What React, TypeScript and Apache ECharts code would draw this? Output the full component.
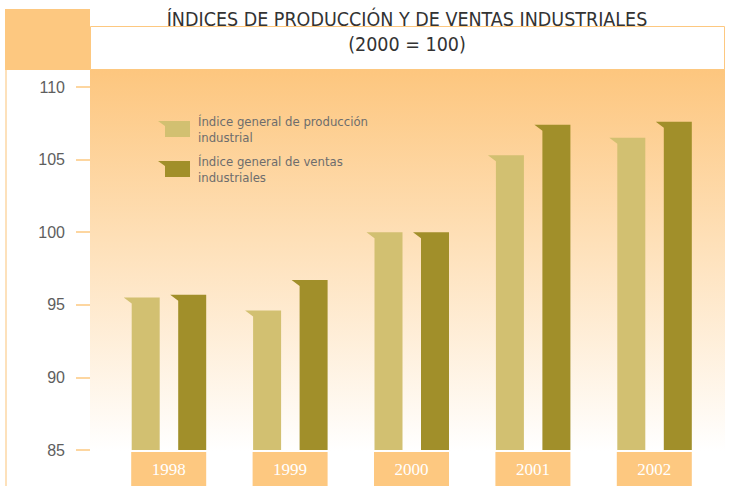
import React, { useEffect, useRef } from "react";
import * as echarts from "echarts";

const years = ["1998", "1999", "2000", "2001", "2002"];
const produccion = [95.5, 94.6, 100.0, 105.3, 106.5];
const ventas = [95.7, 96.7, 100.0, 107.4, 107.6];
const seriesNames = [
  "Índice general de producción\nindustrial",
  "Índice general de ventas\nindustriales",
];
const yTicks = { min: 85, max: 110, interval: 5 };

const LIGHT = "#D2C071";
const DARK = "#A18F2A";
const ORANGE = "#FDC880";
const NARROW = '"Liberation Sans Narrow", "DejaVu Sans Condensed", "Noto Sans", sans-serif';

function makeRender(offset: number, width: number) {
  return (params: any, api: any) => {
    const cat = api.value(0);
    const val = api.value(1);
    const top = api.coord([cat, val]);
    const base = api.coord([cat, yTicks.min]);
    const cx = top[0] + offset;
    const xl = cx - width / 2;
    const xr = cx + width / 2;
    const t = top[1];
    const b = base[1];
    return {
      type: "polygon",
      shape: {
        points: [
          [xl - 8, t],
          [xr, t],
          [xr, b],
          [xl, b],
          [xl, t + 6],
        ],
      },
      style: { fill: api.visual("color") },
    };
  };
}

export default function App() {
  const ref = useRef<HTMLDivElement>(null);
  useEffect(() => {
    if (!ref.current) return;
    const chart = echarts.init(ref.current, null, { renderer: "svg" });
    chart.setOption({
      animation: false,
      backgroundColor: "#ffffff",
      title: {
        text: "ÍNDICES DE PRODUCCIÓN Y DE VENTAS INDUSTRIALES",
        subtext: "(2000 = 100)",
        left: 407,
        textAlign: "center",
        top: 7,
        padding: 0,
        itemGap: 1,
        textStyle: { fontFamily: NARROW, fontSize: 19.5, fontWeight: "normal", color: "#333", lineHeight: 24 },
        subtextStyle: { fontFamily: NARROW, fontSize: 19.5, color: "#333", lineHeight: 24 },
      },
      graphic: [
        {
          type: "rect",
          z: -10,
          shape: { x: 90, y: 69, width: 635, height: 382 },
          style: {
            fill: new echarts.graphic.LinearGradient(0, 0, 0, 1, [
              { offset: 0, color: "#FDC67E" },
              { offset: 0.45, color: "#FEE0B8" },
              { offset: 1, color: "#FFFFFF" },
            ]),
          },
        },
        {
          type: "rect",
          z: -9,
          shape: { x: 90.5, y: 26.5, width: 634, height: 43 },
          style: { fill: "#fff", stroke: ORANGE, lineWidth: 1 },
        },
        {
          type: "rect",
          z: -9,
          shape: { x: 5, y: 9, width: 85, height: 61 },
          style: { fill: ORANGE },
        },
        {
          type: "line",
          z: -9,
          shape: { x1: 6, y1: 70, x2: 6, y2: 486 },
          style: { stroke: "#FDD7A4", lineWidth: 1.5 },
        },
      ],
      legend: {
        orient: "vertical",
        left: 158,
        top: 113,
        padding: 0,
        itemWidth: 32,
        itemHeight: 16,
        itemGap: 8,
        icon: "path://M0,0 L32,0 L32,16 L7,16 L7,5 Z",
        data: seriesNames,
        textStyle: {
          fontFamily: NARROW,
          fontSize: 13,
          color: "#6d6d6d",
          lineHeight: 16,
          padding: [0, 0, 0, 3],
        },
      },
      grid: { left: 108, right: 14, top: 87, bottom: 35 },
      xAxis: {
        type: "category",
        data: years,
        axisLine: { show: false },
        axisTick: { show: false },
        axisLabel: {
          margin: 2,
          color: "#fff",
          backgroundColor: ORANGE,
          width: 75,
          height: 34,
          lineHeight: 34,
          align: "center",
          fontFamily: '"Liberation Serif", serif',
          fontSize: 17,
        },
      },
      yAxis: {
        type: "value",
        min: yTicks.min,
        max: yTicks.max,
        interval: yTicks.interval,
        offset: 18,
        axisLine: { show: false },
        axisTick: { show: true, length: 14, lineStyle: { color: ORANGE, width: 1.5 } },
        splitLine: { show: false },
        axisLabel: {
          margin: 25,
          color: "#5e5e5e",
          fontSize: 16,
          fontFamily: '"Liberation Sans", sans-serif',
        },
      },
      series: [
        {
          name: seriesNames[0],
          type: "custom",
          color: LIGHT,
          renderItem: makeRender(-23, 28),
          encode: { x: 0, y: 1 },
          data: years.map((y, i) => [i, produccion[i]]),
        },
        {
          name: seriesNames[1],
          type: "custom",
          color: DARK,
          renderItem: makeRender(23.5, 28),
          encode: { x: 0, y: 1 },
          data: years.map((y, i) => [i, ventas[i]]),
        },
      ],
    });
    return () => chart.dispose();
  }, []);
  return <div ref={ref} style={{ width: 729, height: 486, position: "absolute", left: 0, top: 0 }} />;
}
